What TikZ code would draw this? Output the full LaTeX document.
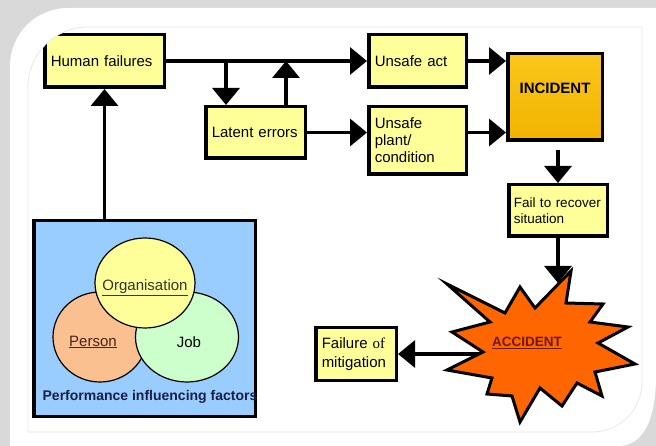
\documentclass[tikz,border=0pt]{standalone}
\usepackage{fontspec}
\setmainfont{Liberation Sans}
\newfontfamily\timesof{Liberation Serif}
\usepackage{tikz}
\usetikzlibrary{shapes.geometric,arrows.meta,positioning,calc}
\usepackage{xcolor}

\definecolor{boxyellow}{HTML}{FFFF99}
\definecolor{pifblue}{HTML}{99CCFF}
\definecolor{personorange}{HTML}{FAC090}
\definecolor{jobgreen}{HTML}{CCFFCC}
\definecolor{starorange}{HTML}{FF6600}
\definecolor{incgoldtop}{HTML}{FAC71A}
\definecolor{incgoldbot}{HTML}{F2B300}
\definecolor{accred}{HTML}{6E1800}
\definecolor{personbrown}{HTML}{4A2414}
\definecolor{pifnavy}{HTML}{1A1F45}
\definecolor{framegrey}{HTML}{D9D9D9}
\definecolor{edgegrey}{HTML}{E8E8E8}

\newcommand{\boxfont}{\fontsize{15}{17}\selectfont}

\begin{document}
\begin{tikzpicture}[
  x=1pt, y=-1pt,
  box/.style={rectangle, draw=black, line width=3.5pt, fill=boxyellow,
    inner xsep=6pt, inner ysep=2pt, align=left, font=\boxfont},
  arr/.style={line width=3.3pt, -{Triangle[length=17pt,width=27pt]}},
  venn/.style={ellipse, draw=black, line width=1.2pt, inner sep=0pt},
  vennlabel/.style={font=\boxfont, inner sep=1pt},
  every node/.style={align=left}
]
\useasboundingbox (0,0) rectangle (656,446);

% frame and card
\fill[framegrey] (0,0) rectangle (656,446);
\fill[white] (10,446) -- (10,66) to[out=90,in=180] (68,8) -- (656,8) -- (656,375)
  to[out=-90,in=0] (618,446) -- cycle;

\node[box, minimum width=119.5pt, minimum height=52.5pt, text width=107.5pt] (human) at (104.5,61) {Human failures};
% rounded corner of the inner picture cuts the first box
\fill[white] (26,25) -- (26,87) -- (28,87) to[out=90,in=180] (88,27) -- (88,25) -- cycle;
\draw[edgegrey, line width=0.8pt] (28,432) -- (28,87) to[out=90,in=180] (88,27) -- (642,27)
  -- (642,382) to[out=-90,in=0] (592,432) -- cycle;

\node[box, minimum width=97.5pt, minimum height=52.5pt, text width=85.5pt] (unsafeact) at (417.5,61) {Unsafe act};
\node[box, minimum width=99.5pt, minimum height=51.5pt, text width=87.5pt] (latent) at (255.5,132.5) {\mbox{Latent errors}};
\node[box, minimum width=97.5pt, minimum height=67.5pt, text width=85.5pt] (unsafeplant) at (417.5,140.5) {Unsafe\\plant/\\condition};
\node[box, top color=incgoldtop, bottom color=incgoldbot, minimum width=94.5pt, minimum height=86.5pt,
  text width=82.5pt, align=center, font=\boxfont\bfseries, text height=11pt, text depth=18pt] (incident) at (555,97) {INCIDENT};
\node[box, minimum width=98.5pt, minimum height=51.5pt, text width=88.5pt, inner xsep=5pt,
  font=\fontsize{13.5}{16}\selectfont] (failrec) at (558,210.5) {\mbox{Fail to recover}\\situation};
\node[box, minimum width=80.5pt, minimum height=52.5pt, text width=68.5pt,
  font=\fontsize{15}{19}\selectfont] (mitig) at (356,354) {\mbox{Failure {\timesof of}}\\mitigation};

% performance influencing factors
\node[draw=black, line width=3.5pt, fill=pifblue, minimum width=221.5pt, minimum height=195.5pt] (pif) at (144.5,318.5) {};
\node[venn, fill=personorange, minimum width=94pt, minimum height=90pt] (person) at (100,337) {};
\node[venn, fill=jobgreen, minimum width=103pt, minimum height=90pt] (job) at (187,337) {};
\node[venn, fill=boxyellow, minimum width=100pt, minimum height=90pt] (org) at (145,283) {};
\node[vennlabel, text=personbrown] (person-label) at ([shift={(-7,5)}]person.center) {\underline{Person}};
\node[vennlabel] (job-label) at ([shift={(2,5)}]job.center) {Job};
\node[vennlabel, text=black!80] (org-label) at ([shift={(0,5)}]org.center) {\underline{Organisation}};
\node[font=\fontsize{14}{16}\selectfont\bfseries, text=pifnavy, inner sep=0pt] (pif-label) at (150,397) {Performance influencing factors};

% connectors
\draw[arr] (pif.north -| human) -- (human.south);
\draw[arr] (human) -- (unsafeact);
\draw[arr] ([xshift=22pt]latent.north west |- human.east) -- ([xshift=22pt]latent.north west);
\draw[arr] ([xshift=-21pt]latent.north east) -- ([xshift=-21pt]latent.north east |- human.east);
\draw[arr] (latent.east) -- (latent.east -| unsafeplant.west);
\draw[arr] (unsafeact.east) -- (unsafeact.east -| incident.west);
\draw[arr] (latent.east -| unsafeplant.east) -- (latent.east -| incident.west);
\draw[arr] ([yshift=-8pt]failrec.north |- incident.south) -- (failrec.north);

% accident
\coordinate (accout) at (492,354);
\coordinate (accin) at (558,283);
\draw[arr] (accout) -- (mitig.east);
\draw[line width=3pt, draw=black, fill=starorange, line join=miter]
  (447,284) -- (505,313) -- (520,287) -- (535,308) -- (571,271) -- (566,303)
  -- (603,304) -- (590,322) -- (628,327) -- (598,343) -- (635,364) -- (595,372)
  -- (602,396) -- (577,383) -- (562,406) -- (540,388) -- (520,422) -- (512,396)
  -- (487,394) -- (492,378) -- (447,370) -- (483,352) -- (452,332) -- (490,322) -- cycle;
\node[font=\fontsize{13.5}{16}\selectfont\bfseries, text=accred] (accident) at (527,343) {\underline{ACCIDENT}};
\draw[arr] (failrec.south) -- (accin);
\end{tikzpicture}
\end{document}
